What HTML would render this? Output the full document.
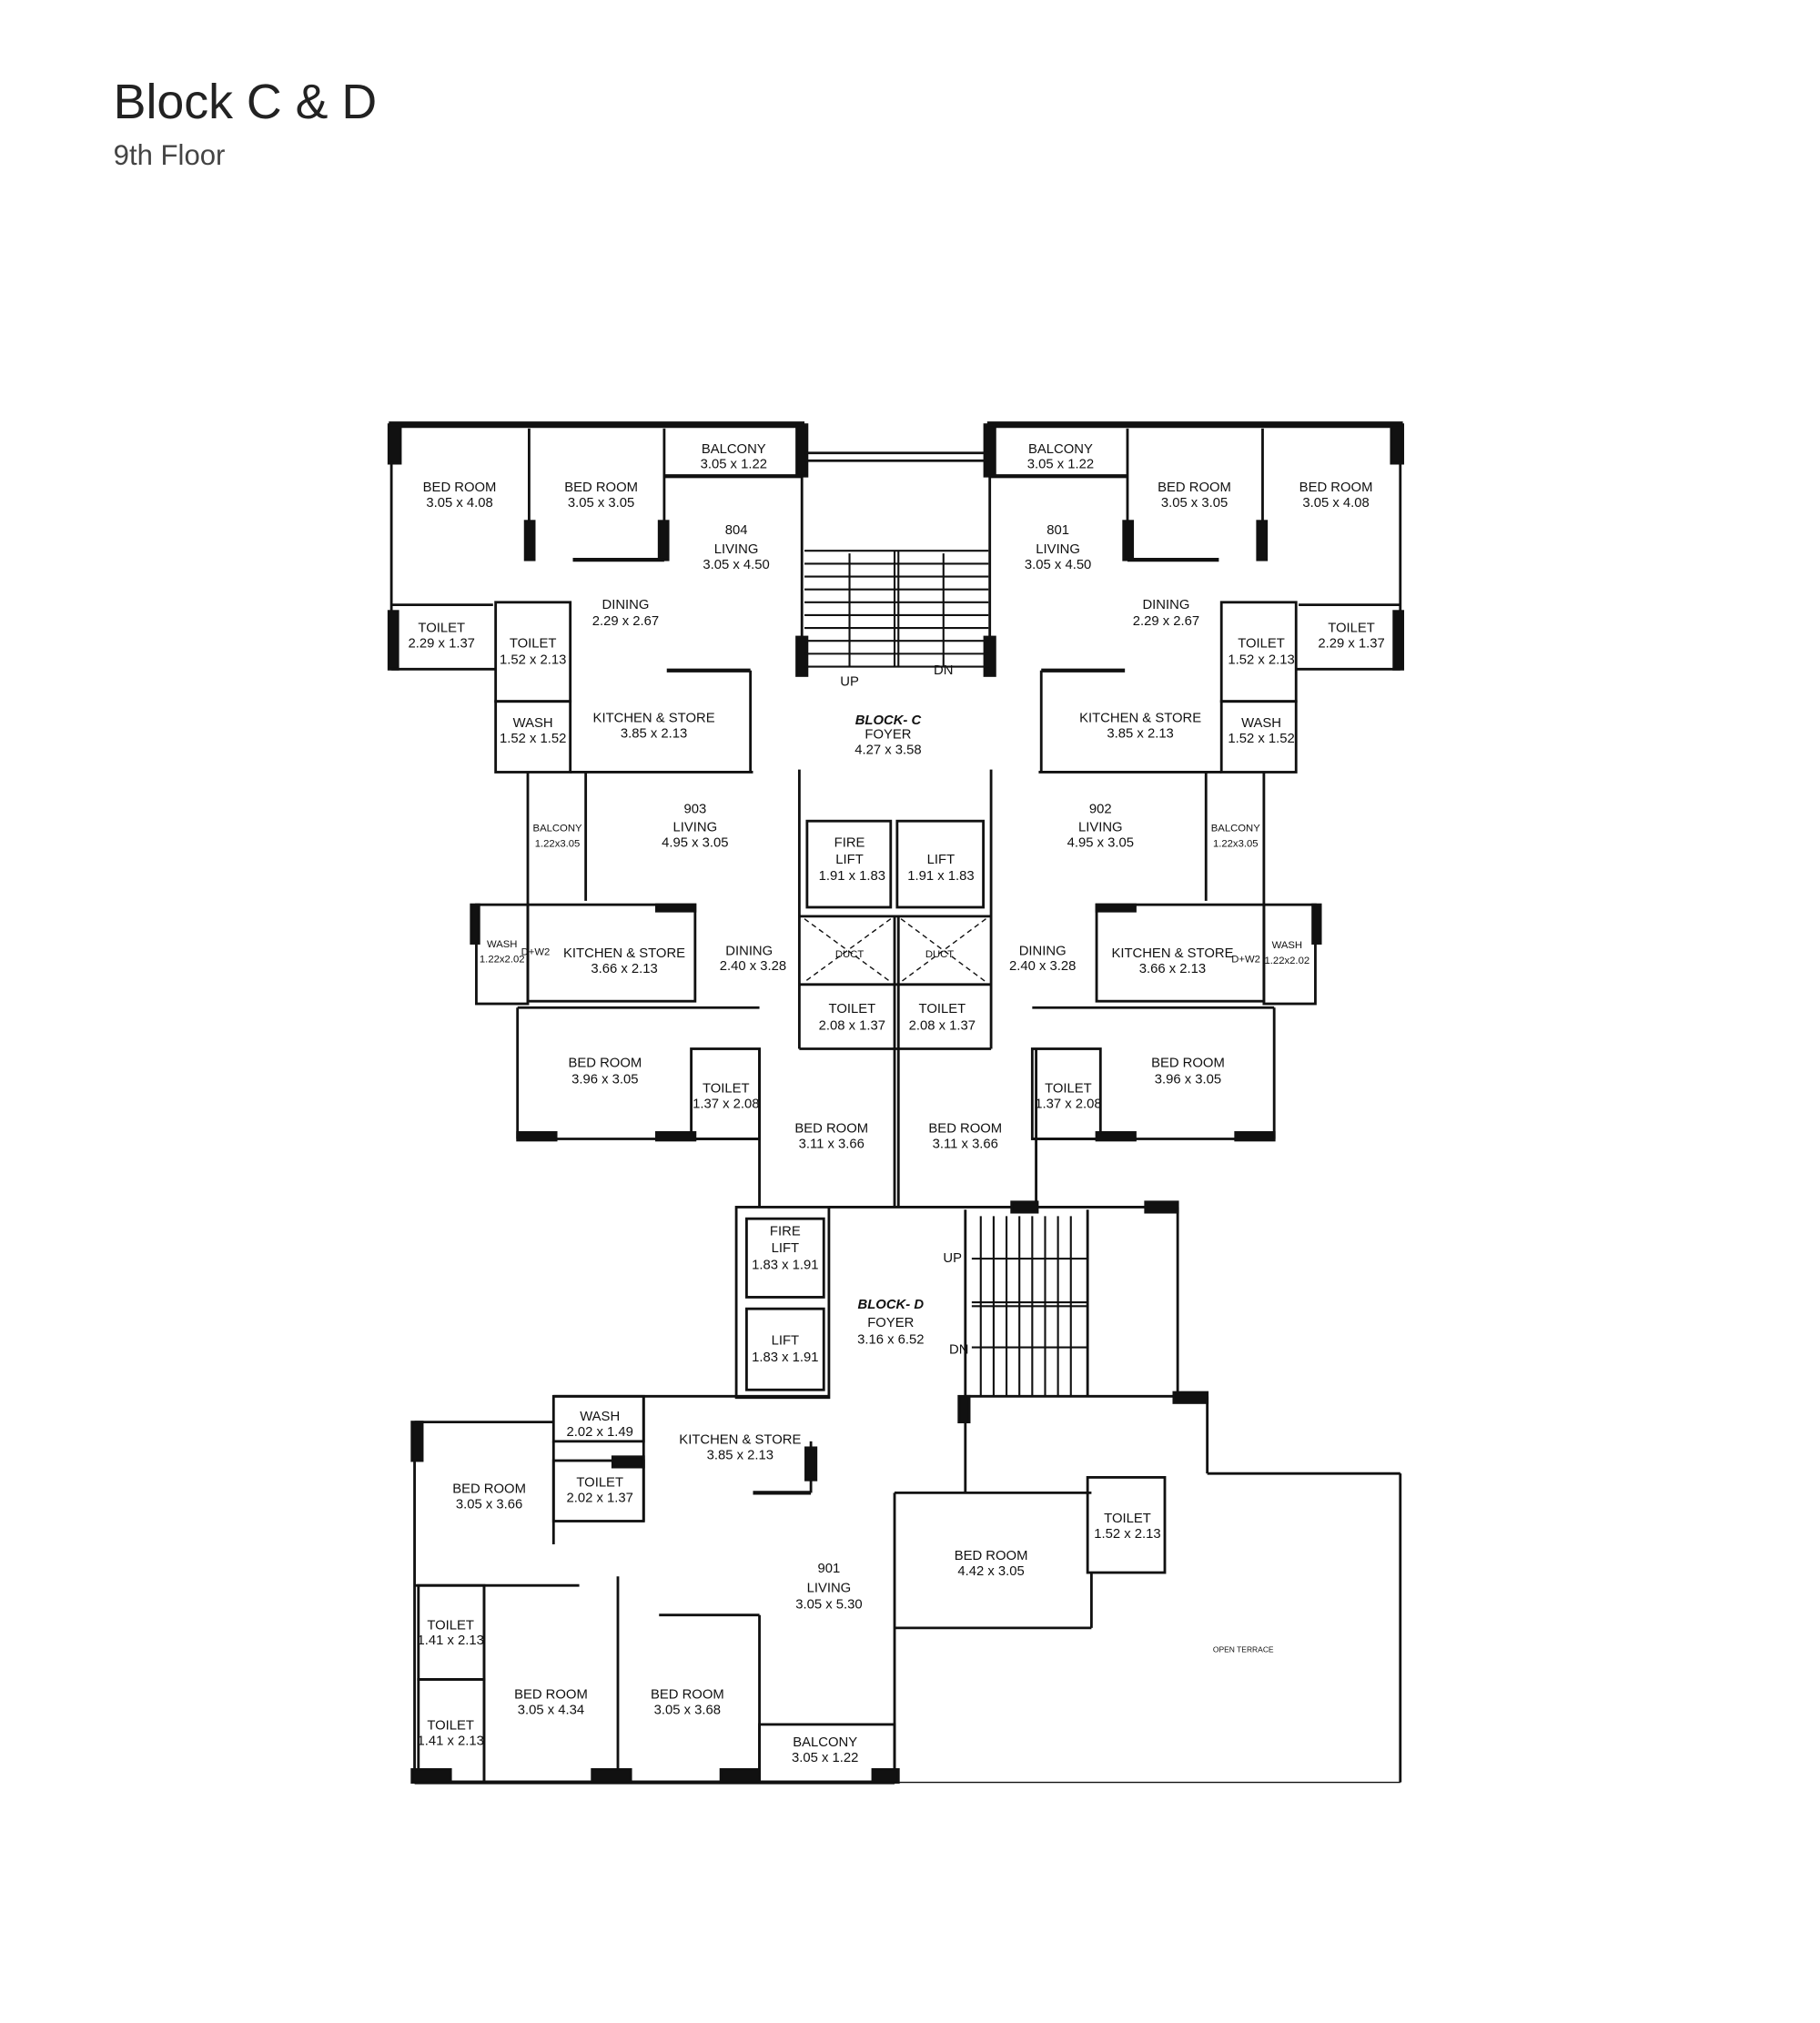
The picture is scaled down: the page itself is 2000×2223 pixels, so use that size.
<!DOCTYPE html>
<html><head><meta charset="utf-8"><style>
html,body{margin:0;padding:0;background:#fff;}
svg{display:block;}
text{font-family:"Liberation Sans",sans-serif;fill:#111;}
.t{font-size:10.5px;text-anchor:middle;}
.s{font-size:8px;text-anchor:middle;}
</style></head><body>
<svg width="2000" height="2223" viewBox="0 0 1414 1572" xmlns="http://www.w3.org/2000/svg">
<rect width="1414" height="1572" fill="#fff"/>
<text x="88" y="92" style="font-size:38px;fill:#222">Block C &amp; D</text>
<text x="88" y="128" style="font-size:22px;fill:#444">9th Floor</text>

<g id="unitL" fill="none" stroke="#111" stroke-width="2">
 <!-- top left unit -->
 <line x1="302" y1="330" x2="625" y2="330" stroke-width="5"/>
 <line x1="304" y1="330" x2="304" y2="520"/>
 <line x1="411" y1="333" x2="411" y2="435"/>
 <line x1="516" y1="333" x2="516" y2="435"/>
 <line x1="445" y1="435" x2="516" y2="435" stroke-width="3"/>
 <line x1="516" y1="370" x2="623" y2="370" stroke-width="3"/>
 <line x1="623" y1="330" x2="623" y2="520"/>
 <line x1="304" y1="470" x2="383" y2="470"/>
 <line x1="304" y1="520" x2="385" y2="520"/>
 <rect x="385" y="468" width="58" height="77"/>
 <rect x="385" y="545" width="58" height="55"/>
 <line x1="443" y1="600" x2="585" y2="600"/>
 <line x1="518" y1="521" x2="583" y2="521" stroke-width="3"/>
 <line x1="583" y1="521" x2="583" y2="600"/>
 <!-- mid left unit -->
 <line x1="410" y1="600" x2="410" y2="703"/>
 <line x1="455" y1="600" x2="455" y2="700"/>
 <rect x="370" y="703" width="40" height="77"/>
 <rect x="410" y="703" width="130" height="75"/>
 <line x1="402" y1="783" x2="402" y2="885"/>
 <line x1="402" y1="885" x2="590" y2="885"/>
 <line x1="402" y1="783" x2="590" y2="783"/>
 <rect x="537" y="815" width="53" height="70"/>
 <rect x="302" y="330" width="9" height="30" fill="#111"/>
 <rect x="302" y="475" width="7" height="45" fill="#111"/>
 <rect x="408" y="405" width="7" height="30" fill="#111"/>
 <rect x="512" y="405" width="7" height="30" fill="#111"/>
 <rect x="619" y="330" width="8" height="40" fill="#111"/>
 <rect x="619" y="495" width="8" height="30" fill="#111"/>
 <rect x="510" y="703" width="30" height="5" fill="#111"/>
 <rect x="402" y="880" width="30" height="6" fill="#111"/>
 <rect x="510" y="880" width="30" height="6" fill="#111"/>
 <rect x="366" y="703" width="6" height="30" fill="#111"/>
</g>
<use href="#unitL" transform="translate(1392,0) scale(-1,1)"/>

<g fill="none" stroke="#111" stroke-width="2">
 <!-- core C -->
 <line x1="625" y1="352" x2="768" y2="352"/>
 <line x1="625" y1="358" x2="768" y2="358"/>
 <g stroke-width="1.5">
  <line x1="625" y1="428" x2="768" y2="428"/><line x1="625" y1="438" x2="768" y2="438"/>
  <line x1="625" y1="448" x2="768" y2="448"/><line x1="625" y1="458" x2="768" y2="458"/>
  <line x1="625" y1="468" x2="768" y2="468"/><line x1="625" y1="478" x2="768" y2="478"/>
  <line x1="625" y1="488" x2="768" y2="488"/><line x1="625" y1="498" x2="768" y2="498"/>
  <line x1="625" y1="508" x2="768" y2="508"/><line x1="625" y1="518" x2="768" y2="518"/>
  <line x1="660" y1="430" x2="660" y2="518"/><line x1="733" y1="430" x2="733" y2="518"/>
  <line x1="695" y1="428" x2="695" y2="518"/><line x1="698" y1="428" x2="698" y2="518"/>
 </g>
 <line x1="621" y1="598" x2="621" y2="815"/>
 <line x1="770" y1="598" x2="770" y2="815"/>
 <rect x="627" y="638" width="65" height="67"/>
 <rect x="697" y="638" width="67" height="67"/>
 <line x1="621" y1="712" x2="770" y2="712"/>
 <line x1="621" y1="765" x2="770" y2="765"/>
 <g stroke-width="1" stroke-dasharray="4 3">
  <line x1="625" y1="714" x2="692" y2="763"/><line x1="692" y1="714" x2="625" y2="763"/>
  <line x1="700" y1="714" x2="766" y2="763"/><line x1="766" y1="714" x2="700" y2="763"/>
 </g>
 <line x1="695" y1="712" x2="695" y2="938"/>
 <line x1="698" y1="712" x2="698" y2="938"/>
 <line x1="621" y1="815" x2="770" y2="815"/>
 <line x1="590" y1="815" x2="590" y2="938"/>
 <line x1="805" y1="815" x2="805" y2="938"/>
 <!-- block D -->
 <rect x="572" y="938" width="72" height="148"/>
 <rect x="580" y="947" width="60" height="61"/>
 <rect x="580" y="1017" width="60" height="63"/>
 <line x1="644" y1="938" x2="915" y2="938"/>
 <line x1="750" y1="940" x2="750" y2="1085"/>
 <line x1="845" y1="940" x2="845" y2="1085"/>
 <line x1="915" y1="938" x2="915" y2="1085"/>
 <g stroke-width="1.5">
  <line x1="762" y1="945" x2="762" y2="1085"/><line x1="772" y1="945" x2="772" y2="1085"/>
  <line x1="782" y1="945" x2="782" y2="1085"/><line x1="792" y1="945" x2="792" y2="1085"/>
  <line x1="802" y1="945" x2="802" y2="1085"/><line x1="812" y1="945" x2="812" y2="1085"/>
  <line x1="822" y1="945" x2="822" y2="1085"/><line x1="832" y1="945" x2="832" y2="1085"/>
  <line x1="755" y1="978" x2="845" y2="978"/><line x1="755" y1="1047" x2="845" y2="1047"/>
  <line x1="755" y1="1012" x2="845" y2="1012"/><line x1="755" y1="1015" x2="845" y2="1015"/>
 </g>
 <line x1="750" y1="1085" x2="938" y2="1085"/>
 <line x1="938" y1="1085" x2="938" y2="1145"/>
 <line x1="938" y1="1145" x2="1088" y2="1145"/>
 <line x1="1088" y1="1145" x2="1088" y2="1385"/>
 <line x1="695" y1="1385" x2="1088" y2="1385" stroke-width="1"/>
 <line x1="750" y1="1085" x2="750" y2="1160"/>
 <!-- lower unit -->
 <line x1="500" y1="1085" x2="644" y2="1085"/>
 <line x1="430" y1="1085" x2="500" y2="1085"/>
 <line x1="322" y1="1105" x2="430" y2="1105"/>
 <line x1="322" y1="1105" x2="322" y2="1385"/>
 <line x1="322" y1="1385" x2="695" y2="1385" stroke-width="3"/>
 <rect x="430" y="1085" width="70" height="35"/>
 <rect x="430" y="1135" width="70" height="47"/>
 <line x1="430" y1="1120" x2="430" y2="1200"/>
 <line x1="500" y1="1085" x2="500" y2="1182"/>
 <line x1="630" y1="1120" x2="630" y2="1160"/>
 <line x1="585" y1="1160" x2="630" y2="1160" stroke-width="3"/>
 <line x1="322" y1="1232" x2="376" y2="1232"/>
 <line x1="376" y1="1232" x2="450" y2="1232"/>
 <rect x="325" y="1232" width="51" height="73"/>
 <rect x="325" y="1305" width="51" height="80"/>
 <line x1="376" y1="1232" x2="376" y2="1385"/>
 <line x1="480" y1="1225" x2="480" y2="1385"/>
 <line x1="512" y1="1255" x2="590" y2="1255"/>
 <line x1="590" y1="1255" x2="590" y2="1385"/>
 <rect x="590" y="1340" width="105" height="45"/>
 <line x1="695" y1="1160" x2="848" y2="1160"/>
 <line x1="695" y1="1160" x2="695" y2="1385"/>
 <line x1="695" y1="1265" x2="848" y2="1265"/>
 <line x1="848" y1="1222" x2="848" y2="1265"/>
 <rect x="845" y="1148" width="60" height="74"/>
 <rect x="786" y="934" width="20" height="8" fill="#111"/>
 <rect x="890" y="934" width="25" height="8" fill="#111"/>
 <rect x="912" y="1082" width="26" height="8" fill="#111"/>
 <rect x="320" y="1105" width="8" height="30" fill="#111"/>
 <rect x="320" y="1375" width="30" height="10" fill="#111"/>
 <rect x="460" y="1375" width="30" height="10" fill="#111"/>
 <rect x="560" y="1375" width="30" height="10" fill="#111"/>
 <rect x="678" y="1375" width="20" height="10" fill="#111"/>
 <rect x="476" y="1132" width="24" height="8" fill="#111"/>
 <rect x="626" y="1125" width="8" height="25" fill="#111"/>
 <rect x="745" y="1085" width="8" height="20" fill="#111"/>
</g>

<!-- labels -->
<g class="t">
<text x="357" y="382">BED ROOM</text><text x="357" y="394">3.05 x 4.08</text>
<text x="467" y="382">BED ROOM</text><text x="467" y="394">3.05 x 3.05</text>
<text x="570" y="352">BALCONY</text><text x="570" y="364">3.05 x 1.22</text>
<text x="572" y="415">804</text><text x="572" y="430">LIVING</text><text x="572" y="442">3.05 x 4.50</text>
<text x="486" y="473">DINING</text><text x="486" y="486">2.29 x 2.67</text>
<text x="343" y="491">TOILET</text><text x="343" y="503">2.29 x 1.37</text>
<text x="414" y="503">TOILET</text><text x="414" y="516">1.52 x 2.13</text>
<text x="414" y="565">WASH</text><text x="414" y="577">1.52 x 1.52</text>
<text x="508" y="561">KITCHEN &amp; STORE</text><text x="508" y="573">3.85 x 2.13</text>
<text x="824" y="352">BALCONY</text><text x="824" y="364">3.05 x 1.22</text>
<text x="822" y="415">801</text><text x="822" y="430">LIVING</text><text x="822" y="442">3.05 x 4.50</text>
<text x="928" y="382">BED ROOM</text><text x="928" y="394">3.05 x 3.05</text>
<text x="1038" y="382">BED ROOM</text><text x="1038" y="394">3.05 x 4.08</text>
<text x="906" y="473">DINING</text><text x="906" y="486">2.29 x 2.67</text>
<text x="980" y="503">TOILET</text><text x="980" y="516">1.52 x 2.13</text>
<text x="1050" y="491">TOILET</text><text x="1050" y="503">2.29 x 1.37</text>
<text x="886" y="561">KITCHEN &amp; STORE</text><text x="886" y="573">3.85 x 2.13</text>
<text x="980" y="565">WASH</text><text x="980" y="577">1.52 x 1.52</text>
<text x="660" y="533">UP</text><text x="733" y="524">DN</text>
<text x="690" y="563" style="font-style:italic;font-weight:bold">BLOCK- C</text>
<text x="690" y="574">FOYER</text><text x="690" y="586">4.27 x 3.58</text>
<text x="540" y="632">903</text><text x="540" y="646">LIVING</text><text x="540" y="658">4.95 x 3.05</text>
<text x="855" y="632">902</text><text x="855" y="646">LIVING</text><text x="855" y="658">4.95 x 3.05</text>
<text x="660" y="658">FIRE</text><text x="660" y="671">LIFT</text><text x="662" y="684">1.91 x 1.83</text>
<text x="731" y="671">LIFT</text><text x="731" y="684">1.91 x 1.83</text>
<text x="485" y="744">KITCHEN &amp; STORE</text><text x="485" y="756">3.66 x 2.13</text>
<text x="582" y="742">DINING</text><text x="585" y="754">2.40 x 3.28</text>
<text x="810" y="742">DINING</text><text x="810" y="754">2.40 x 3.28</text>
<text x="911" y="744">KITCHEN &amp; STORE</text><text x="911" y="756">3.66 x 2.13</text>
<text x="662" y="787">TOILET</text><text x="662" y="800">2.08 x 1.37</text>
<text x="732" y="787">TOILET</text><text x="732" y="800">2.08 x 1.37</text>
<text x="470" y="829">BED ROOM</text><text x="470" y="842">3.96 x 3.05</text>
<text x="923" y="829">BED ROOM</text><text x="923" y="842">3.96 x 3.05</text>
<text x="564" y="849">TOILET</text><text x="564" y="861">1.37 x 2.08</text>
<text x="830" y="849">TOILET</text><text x="830" y="861">1.37 x 2.08</text>
<text x="646" y="880">BED ROOM</text><text x="646" y="892">3.11 x 3.66</text>
<text x="750" y="880">BED ROOM</text><text x="750" y="892">3.11 x 3.66</text>
<text x="610" y="960">FIRE</text><text x="610" y="973">LIFT</text><text x="610" y="986">1.83 x 1.91</text>
<text x="610" y="1045">LIFT</text><text x="610" y="1058">1.83 x 1.91</text>
<text x="692" y="1017" style="font-style:italic;font-weight:bold">BLOCK- D</text>
<text x="692" y="1031">FOYER</text><text x="692" y="1044">3.16 x 6.52</text>
<text x="740" y="981">UP</text><text x="745" y="1052">DN</text>
<text x="466" y="1104">WASH</text><text x="466" y="1116">2.02 x 1.49</text>
<text x="466" y="1155">TOILET</text><text x="466" y="1167">2.02 x 1.37</text>
<text x="575" y="1122">KITCHEN &amp; STORE</text><text x="575" y="1134">3.85 x 2.13</text>
<text x="380" y="1160">BED ROOM</text><text x="380" y="1172">3.05 x 3.66</text>
<text x="644" y="1222">901</text><text x="644" y="1237">LIVING</text><text x="644" y="1250">3.05 x 5.30</text>
<text x="770" y="1212">BED ROOM</text><text x="770" y="1224">4.42 x 3.05</text>
<text x="876" y="1183">TOILET</text><text x="876" y="1195">1.52 x 2.13</text>
<text x="350" y="1266">TOILET</text><text x="350" y="1278">1.41 x 2.13</text>
<text x="350" y="1344">TOILET</text><text x="350" y="1356">1.41 x 2.13</text>
<text x="428" y="1320">BED ROOM</text><text x="428" y="1332">3.05 x 4.34</text>
<text x="534" y="1320">BED ROOM</text><text x="534" y="1332">3.05 x 3.68</text>
<text x="641" y="1357">BALCONY</text><text x="641" y="1369">3.05 x 1.22</text>
</g>
<g class="s">
<text x="433" y="646">BALCONY</text><text x="433" y="658">1.22x3.05</text>
<text x="960" y="646">BALCONY</text><text x="960" y="658">1.22x3.05</text>
<text x="390" y="736">WASH</text><text x="390" y="748">1.22x2.02</text>
<text x="1000" y="737">WASH</text><text x="1000" y="749">1.22x2.02</text>
<text x="416" y="742">D+W2</text><text x="968" y="748">D+W2</text>
<text x="660" y="744">DUCT</text><text x="730" y="744">DUCT</text>
<text x="966" y="1284" style="font-size:6px">OPEN TERRACE</text>
</g>
</svg>
</body></html>
